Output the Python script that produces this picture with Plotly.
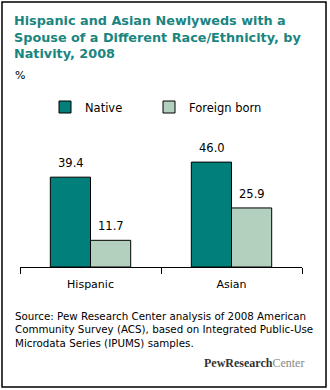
import plotly.graph_objects as go

categories = ["Hispanic", "Asian"]
series_names = ["Native", "Foreign born"]
native_values = [39.4, 46.0]
foreign_values = [11.7, 25.9]
series_colors = ["#007f7b", "#b3cfbe"]

title_text = ("Hispanic and Asian Newlyweds with a<br>Spouse of a Different Race/Ethnicity, by"
              "<br>Nativity, 2008")
source_text = ("Source: Pew Research Center analysis of 2008 American<br>"
               "Community Survey (ACS), based on Integrated Public-Use<br>"
               "Microdata Series (IPUMS) samples.")

# plot-area geometry helpers (pixels -> paper fractions)
PL, PW, PB, PH = 20, 282, 267, 114
def px(x):
    return (x - PL) / PW
def py(y):
    return (PB - y) / PH

legend_ids = ["legend", "legend2"]
legend_left_px = [45, 149]

fig = go.Figure()
for name, vals, col, lg in zip(series_names, [native_values, foreign_values],
                               series_colors, legend_ids):
    fig.add_trace(go.Bar(
        x=categories, y=vals, name=name, legend=lg,
        marker=dict(color=col, line=dict(color="#000000", width=1)),
        hoverinfo="skip",
    ))

# value labels above bars
offsets = [-20, 20]
for off, vals in zip(offsets, [native_values, foreign_values]):
    for c, v in zip(categories, vals):
        fig.add_annotation(x=c, y=v, xref="x", yref="y", text=f"{v:.1f}",
                           showarrow=False, xshift=off, yshift=5, yanchor="bottom",
                           font=dict(family="DejaVu Sans", size=11.5, color="#000000"))

legend_common = dict(orientation="h", xanchor="left", y=py(107), yanchor="middle",
                     font=dict(family="DejaVu Sans", size=11.5, color="#000000"),
                     itemclick=False, bgcolor="rgba(0,0,0,0)")

fig.update_layout(
    width=330, height=390,
    margin=dict(l=20, r=28, t=153, b=123),
    paper_bgcolor="#ffffff", plot_bgcolor="#ffffff",
    barmode="group", bargap=0.43, bargroupgap=0,
    showlegend=True,
    legend=dict(x=px(legend_left_px[0]), **legend_common),
    legend2=dict(x=px(legend_left_px[1]), **legend_common),
    xaxis=dict(type="category", showline=True, linecolor="#000000", linewidth=1,
               ticks="outside", tickson="boundaries", ticklen=6, tickcolor="#000000",
               ticklabelstandoff=7,
               tickfont=dict(family="DejaVu Sans", size=11, color="#000000"),
               showgrid=False, fixedrange=True),
    yaxis=dict(range=[0, 50], visible=False, showgrid=False, fixedrange=True),
)

fig.add_annotation(text=title_text, xref="paper", yref="paper", x=px(12), y=py(11),
                   xanchor="left", yanchor="top", showarrow=False, align="left",
                   font=dict(family="DejaVu Sans", size=12.8, color="#1a8580", weight="bold"))
fig.add_annotation(text="%", xref="paper", yref="paper", x=px(13), y=py(75),
                   xanchor="left", yanchor="middle", showarrow=False,
                   font=dict(family="DejaVu Sans", size=11, color="#000000"))
fig.add_annotation(text=source_text, xref="paper", yref="paper", x=px(13),
                   y=py(308), xanchor="left", yanchor="top", showarrow=False,
                   align="left",
                   font=dict(family="DejaVu Sans", size=10.3, color="#000000"))
fig.add_annotation(text="<b>PewResearch</b><span style='color:#888888'>Center</span>",
                   xref="paper", yref="paper", x=px(306), y=py(363),
                   xanchor="right", yanchor="middle", showarrow=False,
                   font=dict(family="Liberation Serif", size=12, color="#333333"))

# outer frame
fig.add_shape(type="rect", xref="paper", yref="paper",
              x0=px(2), x1=px(326), y0=py(387), y1=py(2),
              line=dict(color="#000000", width=1.5), fillcolor="rgba(0,0,0,0)")

fig.write_html("out.html")
